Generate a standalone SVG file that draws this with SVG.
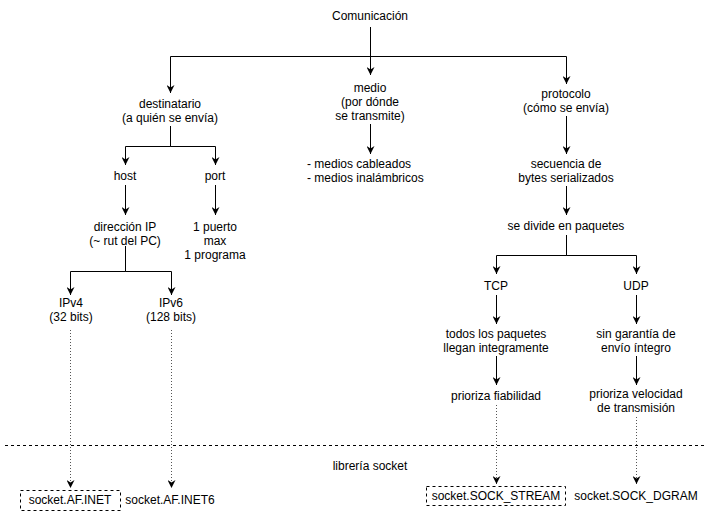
<svg xmlns="http://www.w3.org/2000/svg" width="712" height="516" viewBox="0 0 712 516">
<style>
text{font-family:"Liberation Sans",Arial,Helvetica,sans-serif;font-size:12px;fill:#000;text-anchor:middle}
.e{fill:none;stroke:#000;stroke-width:1}
.d{fill:none;stroke:#555;stroke-width:1;stroke-dasharray:1 2}
.sep{fill:none;stroke:#000;stroke-width:1;stroke-dasharray:3 3}
.box{fill:#fff;stroke:#000;stroke-width:1;stroke-dasharray:3 3}
</style>
<defs>
<marker id="a" viewBox="0 0 10 10" markerWidth="8" markerHeight="8" refX="10" refY="5" orient="auto" markerUnits="userSpaceOnUse">
<path d="M0 0 L10 5 L0 10 L3 5 Z" fill="#000"/>
</marker>
</defs>
<rect width="712" height="516" fill="#fff"/>
<g id="connectors">
<path class="e" d="M370.5 27 V56.5 H170.5 V93" marker-end="url(#a)"/>
<path class="e" d="M370.5 27 V75" marker-end="url(#a)"/>
<path class="e" d="M370.5 27 V56.5 H566.5 V84" marker-end="url(#a)"/>
<path class="e" d="M170.5 126 V146.5 H125.5 V165" marker-end="url(#a)"/>
<path class="e" d="M170.5 126 V146.5 H215.5 V165" marker-end="url(#a)"/>
<path class="e" d="M370.5 124 V154" marker-end="url(#a)"/>
<path class="e" d="M566.5 116 V154" marker-end="url(#a)"/>
<path class="e" d="M125.5 185 V215" marker-end="url(#a)"/>
<path class="e" d="M215.5 185 V215" marker-end="url(#a)"/>
<path class="e" d="M125.5 246 V271.5 H70.5 V295" marker-end="url(#a)"/>
<path class="e" d="M125.5 246 V271.5 H171.5 V295" marker-end="url(#a)"/>
<path class="e" d="M566.5 186 V215" marker-end="url(#a)"/>
<path class="e" d="M566.5 235 V255.5 H496.5 V274" marker-end="url(#a)"/>
<path class="e" d="M566.5 235 V255.5 H636.5 V274" marker-end="url(#a)"/>
<path class="e" d="M496.5 295 V324" marker-end="url(#a)"/>
<path class="e" d="M636.5 295 V324" marker-end="url(#a)"/>
<path class="e" d="M496.5 356 V385" marker-end="url(#a)"/>
<path class="e" d="M636.5 356 V385" marker-end="url(#a)"/>
<path class="d" d="M70.5 330 V488" marker-end="url(#a)"/>
<path class="d" d="M171.5 330 V488" marker-end="url(#a)"/>
<path class="d" d="M496.5 405 V484" marker-end="url(#a)"/>
<path class="d" d="M636.5 417 V484" marker-end="url(#a)"/>
</g>
<g id="separator"><path class="sep" d="M5 445.5 H707"/></g>
<g id="n-comunicacion"><text x="370" y="20">Comunicación</text></g>
<g id="n-destinatario"><text x="170" y="108">destinatario</text><text x="170" y="122">(a quién se envía)</text></g>
<g id="n-medio"><text x="370" y="92">medio</text><text x="370" y="106">(por dónde</text><text x="370" y="120">se transmite)</text></g>
<g id="n-protocolo"><text x="566" y="98">protocolo</text><text x="566" y="112">(cómo se envía)</text></g>
<g id="n-host"><text x="125" y="180">host</text></g>
<g id="n-port"><text x="215" y="180">port</text></g>
<g id="n-medios"><text x="307" y="168" style="text-anchor:start">- medios cableados</text><text x="307" y="182" style="text-anchor:start">- medios inalámbricos</text></g>
<g id="n-secuencia"><text x="566" y="168">secuencia de</text><text x="566" y="182">bytes serializados</text></g>
<g id="n-ip"><text x="125" y="231">dirección IP</text><text x="125" y="245">(~ rut del PC)</text></g>
<g id="n-puerto"><text x="215" y="231">1 puerto</text><text x="215" y="245">max</text><text x="215" y="259">1 programa</text></g>
<g id="n-divide"><text x="566" y="230">se divide en paquetes</text></g>
<g id="n-ipv4"><text x="71" y="307">IPv4</text><text x="71" y="321">(32 bits)</text></g>
<g id="n-ipv6"><text x="171" y="307">IPv6</text><text x="171" y="321">(128 bits)</text></g>
<g id="n-tcp"><text x="496" y="290">TCP</text></g>
<g id="n-udp"><text x="636" y="290">UDP</text></g>
<g id="n-todos"><text x="496" y="338">todos los paquetes</text><text x="496" y="352">llegan integramente</text></g>
<g id="n-sin"><text x="636" y="338">sin garantía de</text><text x="636" y="352">envío íntegro</text></g>
<g id="n-fiab"><text x="496" y="400">prioriza fiabilidad</text></g>
<g id="n-vel"><text x="636" y="398">prioriza velocidad</text><text x="636" y="412">de transmisión</text></g>
<g id="n-libreria"><text x="370" y="470">librería socket</text></g>
<g id="n-afinet"><rect class="box" x="20.5" y="490.5" width="100" height="20"/><text x="70" y="504">socket.AF.INET</text></g>
<g id="n-afinet6"><text x="170" y="504">socket.AF.INET6</text></g>
<g id="n-stream"><rect class="box" x="426.5" y="486.5" width="139" height="19"/><text x="496" y="500">socket.SOCK_STREAM</text></g>
<g id="n-dgram"><text x="636" y="500">socket.SOCK_DGRAM</text></g>
</svg>
